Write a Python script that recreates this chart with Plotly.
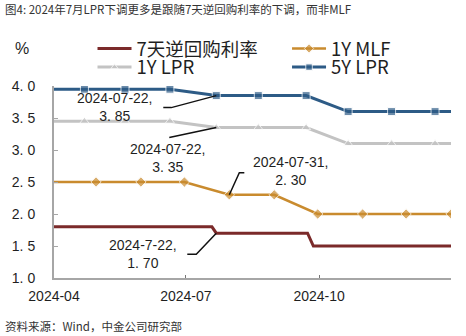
import plotly.graph_objects as go

# ---- data ----
rr_dates = ["2024-03-29", "2024-07-19", "2024-07-22", "2024-09-23", "2024-09-27", "2024-12-31"]
rr_values = [1.8, 1.8, 1.7, 1.7, 1.5, 1.5]

mlf_dates = ["2024-03-31", "2024-04-30", "2024-05-31", "2024-06-30", "2024-07-31",
             "2024-08-31", "2024-09-30", "2024-10-31", "2024-11-30", "2024-12-31"]
mlf_values = [2.5, 2.5, 2.5, 2.5, 2.3, 2.3, 2.0, 2.0, 2.0, 2.0]

lpr_dates = ["2024-03-20", "2024-04-22", "2024-05-20", "2024-06-20", "2024-07-22",
             "2024-08-20", "2024-09-22", "2024-10-21", "2024-11-20", "2024-12-20", "2024-12-31"]
lpr_fixing = [False, True, True, True, True, True, True, True, True, True, False]
lpr1y_values = [3.45, 3.45, 3.45, 3.45, 3.35, 3.35, 3.35, 3.10, 3.10, 3.10, 3.10]
lpr5y_values = [3.95, 3.95, 3.95, 3.95, 3.85, 3.85, 3.85, 3.60, 3.60, 3.60, 3.60]

y_ticks = [1.0, 1.5, 2.0, 2.5, 3.0, 3.5, 4.0]
y_tick_text = ["1. 0", "1. 5", "2. 0", "2. 5", "3. 0", "3. 5", "4. 0"]
x_ticks = ["2024-04-01", "2024-07-01", "2024-10-01"]
x_tick_text = ["2024-04", "2024-07", "2024-10"]

# labelled points: (date, value, text)
callouts = [
    ("2024-07-22", 3.85, "2024-07-22,<br>3. 85"),
    ("2024-07-22", 3.35, "2024-07-22,<br>3. 35"),
    ("2024-07-31", 2.30, "2024-07-31,<br>2. 30"),
    ("2024-07-22", 1.70, "2024-7-22,<br>1. 70"),
]

# ---- styles ----
C_RR = "#7b2a2a"
C_MLF = "#c98b2e"
C_L1 = "#c3c3c3"
C_L5 = "#2d5b86"
AX = "#a6a6a6"
TXT = "#1f1f1f"
FONT = "Liberation Sans, Noto Sans CJK SC"
CJK = "Noto Sans CJK SC"

fig = go.Figure()
fig.add_trace(go.Scatter(x=rr_dates, y=rr_values, name="7天逆回购利率", mode="lines",
                         line=dict(color=C_RR, width=3), legend="legend"))
fig.add_trace(go.Scatter(x=mlf_dates, y=mlf_values, name="1Y MLF", mode="lines+markers",
                         line=dict(color=C_MLF, width=2.5),
                         marker=dict(symbol="diamond", color=C_MLF,
                                     size=[0] + [8] * (len(mlf_dates) - 1)),
                         legend="legend2"))
fig.add_trace(go.Scatter(x=lpr_dates, y=lpr1y_values, name="1Y LPR", mode="lines+markers",
                         line=dict(color=C_L1, width=3),
                         marker=dict(symbol="triangle-up", color=C_L1,
                                     size=[8 if f else 0 for f in lpr_fixing]),
                         legend="legend3"))
fig.add_trace(go.Scatter(x=lpr_dates, y=lpr5y_values, name="5Y LPR", mode="lines+markers",
                         line=dict(color=C_L5, width=3),
                         marker=dict(symbol="square", color=C_L5,
                                     size=[8 if f else 0 for f in lpr_fixing]),
                         legend="legend4"))

# leader lines (pixel offsets from the labelled point) and text positions
leaders = [
    ("M0,0 L-45,-12 L-53,-12", -101, -11),
    ("M0,0 L-47,-10", -48, -30),
    ("M0,0 L10,22 L15,22", 62, 24),
    ("M0,0 L-20,-21 L-29,-21", -73, -21),
]
shapes = []
annotations = []
for (d, v, t), (path, dx, dy) in zip(callouts, leaders):
    shapes.append(dict(type="path", xref="x", yref="y", xsizemode="pixel", ysizemode="pixel",
                       xanchor=d, yanchor=v, path=path,
                       line=dict(color="#111111", width=1.5)))
    annotations.append(dict(x=d, y=v, xref="x", yref="y", text=t, showarrow=False,
                            xshift=dx, yshift=dy, align="center",
                            font=dict(family=FONT, size=14, color=TXT)))

annotations += [
    dict(xref="paper", yref="paper", x=-0.128, y=1.402, xanchor="left", yanchor="middle",
         text="图4: 2024年7月LPR下调更多是跟随7天逆回购利率的下调，而非MLF", showarrow=False,
         font=dict(family=CJK, size=11.5, color="#333333")),
    dict(xref="paper", yref="paper", x=-0.128, y=-0.248, xanchor="left", yanchor="middle",
         text="资料来源：Wind，中金公司研究部", showarrow=False,
         font=dict(family=CJK, size=11.5, color="#333333")),
    dict(xref="paper", yref="paper", x=-0.08, y=1.195, xanchor="center", yanchor="middle",
         text="%", showarrow=False, font=dict(family=FONT, size=16, color=TXT)),
]

legend_common = dict(orientation="h", xref="paper", yref="paper", xanchor="left",
                     yanchor="middle", font=dict(family=CJK, size=18.5, color=TXT),
                     bgcolor="rgba(0,0,0,0)", borderwidth=0, itemwidth=34)

fig.update_layout(
    width=466, height=336,
    margin=dict(l=54, r=15, t=86, b=58),
    paper_bgcolor="white", plot_bgcolor="white",
    showlegend=True,
    legend=dict(x=0.097, y=1.193, **legend_common),
    legend2=dict(x=0.587, y=1.193, **legend_common),
    legend3=dict(x=0.097, y=1.096, **legend_common),
    legend4=dict(x=0.587, y=1.096, **legend_common),
    shapes=shapes,
    annotations=annotations,
    xaxis=dict(type="date", range=["2024-04-01", "2024-12-31"], tickvals=x_ticks,
               ticktext=x_tick_text, showgrid=False, zeroline=False,
               showline=True, linecolor=AX, linewidth=2,
               ticks="inside", ticklen=3, tickcolor="#777777", tickwidth=1,
               tickfont=dict(family=FONT, size=14, color=TXT), ticklabelstandoff=4),
    yaxis=dict(range=[1, 4], tickvals=y_ticks, ticktext=y_tick_text, showgrid=False,
               zeroline=False, showline=True, linecolor=AX, linewidth=2,
               ticks="inside", ticklen=4, tickcolor=AX, tickwidth=1,
               tickfont=dict(family=FONT, size=14, color=TXT), ticklabelstandoff=14),
)

fig.write_html("out.html")
